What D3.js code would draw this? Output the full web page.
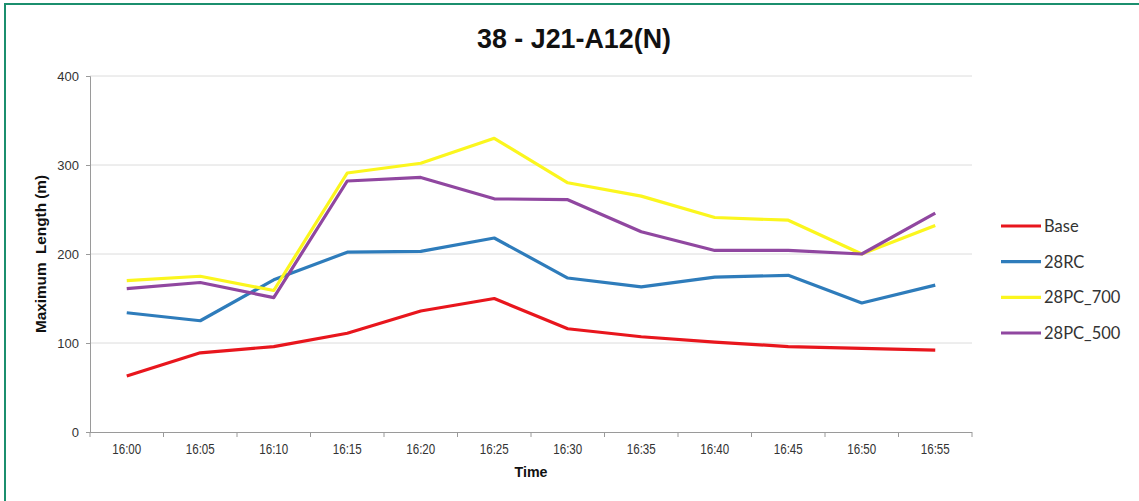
<!DOCTYPE html>
<html>
<head>
<meta charset="utf-8">
<script src="https://cdn.jsdelivr.net/npm/d3@7"></script>
<style>
  html, body { margin: 0; padding: 0; background: #ffffff; }
  svg { display: block; }
</style>
</head>
<body>
<svg id="chart" width="1139" height="501"></svg>
<script>
// Time slots on the x axis
const times = ["16:00", "16:05", "16:10", "16:15", "16:20", "16:25",
               "16:30", "16:35", "16:40", "16:45", "16:50", "16:55"];

// Maximum queue length (m) per scenario
const base     = [63, 89, 96, 111, 136, 150, 116, 107, 101, 96, 94, 92];
const rc28     = [134, 125, 171, 202, 203, 218, 173, 163, 174, 176, 145, 165];
const pc700    = [170, 175, 159, 291, 302, 330, 280, 265, 241, 238, 200, 232];
const pc500    = [161, 168, 151, 282, 286, 262, 261, 225, 204, 204, 200, 246];

const seriesNames = ["Base", "28RC", "28PC_700", "28PC_500"];
const yTicks = [0, 100, 200, 300, 400];

const series = [
  { name: seriesNames[0], values: base,  color: "#e8161d" },
  { name: seriesNames[1], values: rc28,  color: "#2e7cbb" },
  { name: seriesNames[2], values: pc700, color: "#fbf61e" },
  { name: seriesNames[3], values: pc500, color: "#9047a0" }
];

const svg = d3.select("#chart");
const plot = { left: 90, right: 972, top: 76, bottom: 432 };

// Outer frame (only the top and left edges fall inside the view)
svg.append("rect")
  .attr("x", 5).attr("y", 4)
  .attr("width", 1150).attr("height", 520)
  .attr("fill", "none")
  .attr("stroke", "#1b8f6e")
  .attr("stroke-width", 2);

const x = d3.scaleBand().domain(times).range([plot.left, plot.right]).padding(0);
const y = d3.scaleLinear().domain([0, 400]).range([plot.bottom, plot.top]);

// Fit a text element to a given width (the typography is slightly condensed)
function fit(sel, w) {
  sel.attr("textLength", w).attr("lengthAdjust", "spacingAndGlyphs");
}

// Horizontal gridlines
svg.append("g")
  .selectAll("line")
  .data(yTicks.filter(d => d > 0))
  .join("line")
  .attr("x1", plot.left).attr("x2", plot.right)
  .attr("y1", d => y(d)).attr("y2", d => y(d))
  .attr("stroke", "#dcdcdc")
  .attr("stroke-width", 1);

// Y axis
const yAxis = svg.append("g")
  .attr("transform", `translate(${plot.left},0)`)
  .call(d3.axisLeft(y).tickValues(yTicks).tickSize(4).tickPadding(7));
yAxis.select(".domain").attr("stroke", "#9a9a9a");
yAxis.selectAll(".tick line").attr("stroke", "#9a9a9a");
yAxis.selectAll(".tick text")
  .attr("font-family", "Liberation Sans, Arial, sans-serif")
  .attr("font-size", 13)
  .attr("fill", "#333");

// X axis: tick marks on category boundaries, labels centred in each band
const xAxisG = svg.append("g").attr("transform", `translate(0,${plot.bottom})`);
xAxisG.append("line")
  .attr("x1", plot.left).attr("x2", plot.right)
  .attr("y1", 0.5).attr("y2", 0.5)
  .attr("stroke", "#9a9a9a");
const bounds = times.map(t => x(t)).concat([x(times[times.length - 1]) + x.bandwidth()]);
xAxisG.selectAll("line.b")
  .data(bounds)
  .join("line")
  .attr("class", "b")
  .attr("x1", d => d).attr("x2", d => d)
  .attr("y1", 0).attr("y2", 5)
  .attr("stroke", "#9a9a9a");
xAxisG.selectAll("text")
  .data(times)
  .join("text")
  .attr("x", d => x(d) + x.bandwidth() / 2)
  .attr("y", 22)
  .attr("text-anchor", "middle")
  .attr("font-family", "Liberation Sans, Arial, sans-serif")
  .attr("font-size", 14)
  .attr("fill", "#333")
  .text(d => d)
  .call(fit, 29);

// Series lines
const line = d3.line()
  .x((d, i) => x(times[i]) + x.bandwidth() / 2)
  .y(d => y(d));

svg.append("g")
  .selectAll("path")
  .data(series)
  .join("path")
  .attr("d", d => line(d.values))
  .attr("fill", "none")
  .attr("stroke", d => d.color)
  .attr("stroke-width", 3.2)
  .attr("stroke-linejoin", "round");

// Title
svg.append("text")
  .attr("x", 574).attr("y", 48)
  .attr("text-anchor", "middle")
  .attr("font-family", "Liberation Sans, Arial, sans-serif")
  .attr("font-weight", "bold")
  .attr("font-size", 27)
  .attr("fill", "#111")
  .text("38 - J21-A12(N)")
  .call(fit, 194);

// Axis titles
svg.append("text")
  .attr("x", 531).attr("y", 477)
  .attr("text-anchor", "middle")
  .attr("font-family", "Liberation Sans, Arial, sans-serif")
  .attr("font-weight", "bold")
  .attr("font-size", 14.5)
  .attr("fill", "#111")
  .text("Time")
  .call(fit, 33);

svg.append("text")
  .attr("transform", `translate(46,254) rotate(-90)`)
  .attr("text-anchor", "middle")
  .attr("font-family", "Liberation Sans, Arial, sans-serif")
  .attr("font-weight", "bold")
  .attr("font-size", 14)
  .attr("fill", "#111")
  .attr("xml:space", "preserve")
  .text("Maximum  Length (m)")
  .call(fit, 158);

// Legend
const legend = svg.append("g");
const legendY = d3.scalePoint().domain(seriesNames).range([226, 333]);
const item = legend.selectAll("g")
  .data(series)
  .join("g")
  .attr("transform", d => `translate(1001,${legendY(d.name)})`);
item.append("line")
  .attr("x1", 0).attr("x2", 40)
  .attr("y1", 0).attr("y2", 0)
  .attr("stroke", d => d.color)
  .attr("stroke-width", 3.2);
item.append("text")
  .attr("x", 43).attr("y", 6)
  .attr("font-family", "Lato, 'Open Sans', sans-serif")
  .attr("font-size", 16.5)
  .attr("fill", "#333")
  .text(d => d.name);
</script>
</body>
</html>
